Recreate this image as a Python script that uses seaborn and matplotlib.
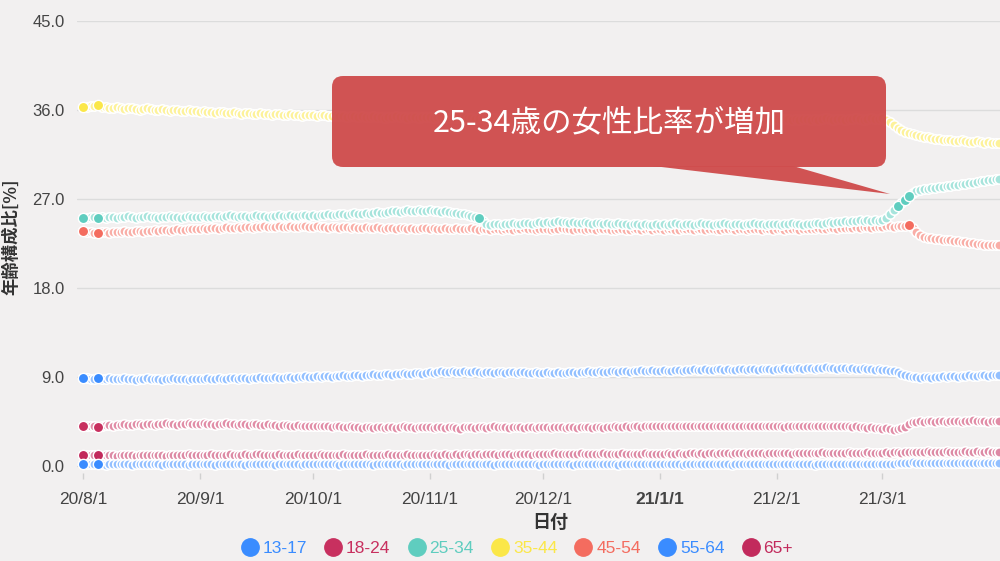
import pandas as pd
import matplotlib
matplotlib.use('Agg')
import matplotlib.pyplot as plt
from matplotlib.colors import to_rgb
from matplotlib.lines import Line2D
from matplotlib.patches import FancyBboxPatch, Polygon
import seaborn as sns

# daily values, 2020-08-01 .. 2021-04-01, one line per month
dates = pd.date_range('2020-08-01', '2021-04-01', freq='D')

age_groups = ['13-17', '18-24', '25-34', '35-44', '45-54', '55-64', '65+']
colors = ['#3a8cff', '#c8305f', '#5fcdbf', '#fbe748', '#f46c5f', '#3a8cff', '#c22a5c']

v_13_17 = """
0.2 0.2 0.2 0.2 0.2 0.2 0.1 0.2 0.2 0.2 0.2 0.2 0.2 0.1 0.2 0.2 0.2 0.2 0.2 0.2 0.2 0.1 0.2 0.2 0.2 0.2 0.2 0.2 0.1 0.2 0.2
0.2 0.2 0.2 0.2 0.1 0.2 0.2 0.2 0.2 0.2 0.2 0.2 0.1 0.2 0.2 0.2 0.2 0.2 0.2 0.2 0.1 0.2 0.2 0.2 0.2 0.2 0.2 0.1 0.2 0.2
0.2 0.2 0.2 0.2 0.2 0.2 0.2 0.1 0.2 0.2 0.2 0.2 0.2 0.2 0.2 0.2 0.1 0.2 0.2 0.2 0.2 0.2 0.2 0.2 0.1 0.2 0.2 0.2 0.2 0.2 0.2
0.2 0.2 0.2 0.2 0.2 0.1 0.2 0.2 0.2 0.2 0.2 0.2 0.2 0.2 0.2 0.2 0.2 0.1 0.2 0.2 0.2 0.2 0.2 0.2 0.2 0.2 0.2 0.2 0.2 0.1
0.2 0.2 0.2 0.2 0.2 0.2 0.2 0.2 0.1 0.2 0.2 0.2 0.2 0.2 0.2 0.2 0.2 0.2 0.2 0.2 0.1 0.2 0.2 0.2 0.2 0.2 0.2 0.2 0.2 0.2 0.2
0.2 0.2 0.2 0.2 0.2 0.2 0.1 0.2 0.2 0.2 0.2 0.2 0.2 0.2 0.2 0.2 0.2 0.2 0.2 0.1 0.2 0.2 0.2 0.2 0.2 0.2 0.2 0.2 0.2 0.2 0.2
0.2 0.2 0.2 0.2 0.2 0.2 0.2 0.2 0.2 0.2 0.1 0.2 0.2 0.2 0.2 0.2 0.2 0.2 0.2 0.2 0.2 0.2 0.2 0.2 0.2 0.2 0.2 0.2
0.2 0.2 0.2 0.2 0.3 0.3 0.3 0.3 0.4 0.3 0.3 0.3 0.3 0.3 0.3 0.3 0.3 0.3 0.3 0.3 0.3 0.3 0.3 0.3 0.3 0.3 0.3 0.3 0.3 0.3 0.3
0.3
"""

v_18_24 = """
4.1 4.1 4.0 4.0 3.9 4.1 4.2 4.2 4.1 4.2 4.2 4.3 4.2 4.2 4.3 4.3 4.2 4.3 4.3 4.2 4.3 4.3 4.4 4.3 4.3 4.2 4.3 4.3 4.4 4.3 4.3
4.3 4.4 4.3 4.3 4.2 4.3 4.3 4.4 4.3 4.3 4.2 4.3 4.3 4.2 4.3 4.3 4.2 4.2 4.3 4.2 4.2 4.1 4.2 4.2 4.1 4.1 4.2 4.1 4.1 4.0
4.1 4.0 4.0 4.1 4.0 3.9 4.0 4.0 3.9 3.9 4.0 3.9 3.9 3.8 3.9 3.9 3.8 3.9 3.9 3.8 3.9 3.9 3.8 3.9 4.0 3.9 3.9 3.8 3.9 3.9 3.9
3.9 3.8 3.9 3.9 3.8 3.9 3.9 3.8 3.7 3.9 3.9 3.9 3.8 3.9 3.9 3.8 3.9 4.0 3.9 3.9 3.9 3.8 3.9 3.9 3.9 3.8 3.9 3.9 3.8 3.9
3.9 3.9 3.8 3.9 3.9 3.9 3.8 3.9 3.9 3.8 3.9 3.9 3.9 3.8 3.9 3.9 3.8 3.9 3.9 4.0 3.9 3.9 4.0 3.9 4.0 4.0 3.9 4.0 4.0 4.1 4.0
4.0 4.1 4.0 4.0 4.1 4.0 4.0 4.1 4.1 4.0 4.0 4.1 4.1 4.0 4.0 4.1 4.0 4.0 4.1 4.0 4.0 4.1 4.1 4.0 4.1 4.1 4.0 4.1 4.1 4.0 4.0
4.1 4.0 3.9 4.0 4.1 4.1 4.0 4.1 4.1 4.0 4.1 4.1 4.0 4.1 4.1 4.0 4.0 4.1 4.0 4.0 3.9 4.0 3.9 3.9 3.8 3.9 3.8 3.8
3.7 3.8 3.7 3.6 3.7 3.8 3.9 4.3 4.5 4.5 4.6 4.5 4.6 4.6 4.5 4.6 4.6 4.5 4.6 4.6 4.6 4.5 4.6 4.6 4.7 4.6 4.6 4.6 4.5 4.6 4.6
4.6
"""

v_25_34 = """
25.1 25.1 25.2 25.2 25.1 25.2 25.1 25.2 25.2 25.1 25.2 25.2 25.3 25.2 25.1 25.2 25.2 25.3 25.2 25.2 25.1 25.2 25.2 25.3 25.2 25.2 25.1 25.2 25.3 25.2 25.2
25.2 25.3 25.2 25.2 25.3 25.3 25.2 25.3 25.4 25.3 25.2 25.3 25.3 25.2 25.3 25.4 25.3 25.3 25.2 25.3 25.3 25.4 25.3 25.3 25.4 25.3 25.3 25.4 25.4 25.3
25.4 25.3 25.4 25.4 25.5 25.4 25.4 25.5 25.5 25.4 25.5 25.6 25.5 25.5 25.6 25.5 25.6 25.7 25.6 25.6 25.7 25.8 25.8 25.7 25.8 25.9 25.8 25.8 25.9 25.8 25.8
25.9 25.8 25.8 25.7 25.8 25.7 25.6 25.6 25.5 25.5 25.4 25.3 25.2 25.1 24.8 24.5 24.4 24.5 24.5 24.4 24.5 24.5 24.6 24.5 24.5 24.6 24.6 24.5 24.6 24.7
24.6 24.7 24.6 24.7 24.8 24.7 24.7 24.6 24.7 24.6 24.6 24.7 24.6 24.5 24.6 24.6 24.5 24.6 24.5 24.5 24.6 24.5 24.5 24.4 24.5 24.5 24.4 24.5 24.4 24.4 24.5
24.4 24.5 24.4 24.5 24.6 24.5 24.4 24.5 24.5 24.4 24.5 24.6 24.5 24.5 24.4 24.5 24.5 24.6 24.5 24.4 24.5 24.5 24.4 24.5 24.5 24.6 24.5 24.5 24.4 24.5 24.5
24.5 24.4 24.5 24.5 24.6 24.5 24.5 24.4 24.5 24.5 24.6 24.6 24.5 24.6 24.7 24.6 24.7 24.7 24.8 24.7 24.8 24.8 24.9 24.8 24.9 24.8 24.9 24.8
24.9 25.1 25.5 25.9 26.3 26.6 26.9 27.3 27.6 27.8 27.9 28.0 28.0 28.1 28.1 28.2 28.2 28.3 28.3 28.4 28.4 28.5 28.5 28.6 28.6 28.7 28.8 28.8 28.9 28.9 29.0
29.0
"""

v_35_44 = """
36.3 36.3 36.4 36.4 36.5 36.3 36.3 36.2 36.2 36.3 36.2 36.1 36.2 36.2 36.1 36.0 36.1 36.2 36.1 36.0 36.0 36.1 36.0 35.9 36.0 36.0 35.9 35.9 36.0 35.9 35.9
35.8 35.9 35.8 35.8 35.7 35.8 35.8 35.7 35.7 35.8 35.7 35.6 35.7 35.7 35.6 35.6 35.7 35.6 35.6 35.5 35.6 35.6 35.5 35.5 35.6 35.5 35.5 35.4 35.5 35.5
35.5 35.4 35.5 35.5 35.4 35.4 35.5 35.4 35.4 35.3 35.4 35.4 35.3 35.4 35.3 35.3 35.4 35.3 35.3 35.2 35.3 35.3 35.4 35.3 35.3 35.2 35.3 35.3 35.2 35.3 35.3
35.3 35.2 35.3 35.3 35.2 35.2 35.3 35.2 35.2 35.3 35.2 35.2 35.1 35.2 35.2 35.1 35.2 35.2 35.1 35.2 35.2 35.1 35.1 35.2 35.1 35.2 35.2 35.1 35.1 35.2
35.2 35.1 35.1 35.2 35.1 35.1 35.2 35.1 35.0 35.1 35.1 35.2 35.1 35.0 35.1 35.1 35.0 35.1 35.1 35.2 35.1 35.0 35.1 35.1 35.0 35.1 35.2 35.1 35.0 35.1 35.1
35.1 35.0 35.1 35.1 35.0 35.0 35.1 35.2 35.1 35.0 35.1 35.1 35.0 35.1 35.0 35.1 35.1 35.0 35.0 35.1 35.1 35.0 35.1 35.2 35.1 35.0 35.1 35.0 35.1 35.1 35.0
35.1 35.0 35.1 35.1 35.0 35.1 35.0 35.1 35.1 35.0 35.1 35.0 35.1 35.2 35.1 35.0 35.1 35.1 35.0 35.1 35.1 35.2 35.1 35.0 35.1 35.2 35.1 35.1
35.2 35.0 34.8 34.5 34.2 34.0 33.8 33.7 33.6 33.5 33.4 33.3 33.3 33.2 33.1 33.1 33.0 33.0 33.0 32.9 32.9 33.0 32.9 32.8 32.8 32.9 32.8 32.7 32.8 32.7 32.7
32.7
"""

v_45_54 = """
23.8 23.7 23.7 23.6 23.6 23.7 23.7 23.6 23.7 23.7 23.7 23.8 23.7 23.7 23.8 23.8 23.7 23.8 23.8 23.9 23.8 23.9 23.9 23.8 23.9 24.0 23.9 23.9 24.0 24.0 24.0
24.0 24.1 24.0 24.1 24.1 24.0 24.1 24.2 24.1 24.1 24.2 24.1 24.2 24.2 24.1 24.2 24.2 24.3 24.2 24.2 24.2 24.3 24.2 24.2 24.3 24.2 24.2 24.3 24.3 24.2
24.2 24.3 24.2 24.2 24.1 24.2 24.2 24.1 24.2 24.2 24.1 24.2 24.1 24.1 24.2 24.1 24.1 24.2 24.1 24.0 24.1 24.1 24.0 24.1 24.1 24.0 24.1 24.0 24.0 24.1 24.1
24.0 24.1 24.0 24.0 24.1 24.0 24.0 24.1 24.0 24.0 24.0 24.1 24.0 23.9 24.0 24.0 23.9 24.0 24.0 23.9 24.0 24.0 23.9 24.0 24.0 24.1 24.0 24.0 23.9 24.0
24.0 24.0 23.9 24.0 24.0 24.1 24.0 24.0 23.9 24.0 24.0 23.9 24.0 24.0 23.9 24.0 24.0 24.0 23.9 23.9 24.0 24.0 23.9 23.9 24.0 24.0 23.9 24.0 24.0 23.9 24.0
24.0 23.9 24.0 24.0 23.9 23.9 24.0 24.0 24.0 23.9 24.0 24.0 23.9 24.0 24.0 23.9 23.9 24.0 24.0 24.0 23.9 24.0 24.0 23.9 24.0 24.0 24.0 23.9 24.0 24.0 23.9
24.0 24.0 23.9 24.0 24.0 24.0 23.9 24.0 24.0 24.0 24.0 24.1 24.0 24.0 24.1 24.1 24.0 24.1 24.1 24.1 24.1 24.2 24.1 24.2 24.2 24.1 24.2 24.2
24.2 24.3 24.3 24.2 24.3 24.3 24.3 24.4 24.1 23.7 23.4 23.2 23.1 23.1 23.0 23.0 22.9 22.9 22.9 22.8 22.8 22.7 22.7 22.6 22.6 22.5 22.5 22.4 22.4 22.3 22.3
22.3
"""

v_55_64 = """
8.9 8.9 8.8 8.8 8.9 8.8 8.8 8.9 8.8 8.8 8.8 8.9 8.8 8.8 8.7 8.8 8.8 8.9 8.8 8.8 8.8 8.7 8.8 8.8 8.9 8.8 8.8 8.8 8.7 8.8 8.8
8.8 8.8 8.9 8.8 8.8 8.9 8.8 8.8 8.9 8.9 8.8 8.9 8.9 8.8 8.9 8.9 9.0 8.9 8.9 8.9 9.0 8.9 8.9 9.0 9.0 8.9 9.0 9.0 9.1 9.0
9.0 9.1 9.0 9.1 9.1 9.0 9.1 9.1 9.2 9.1 9.1 9.2 9.2 9.1 9.2 9.2 9.3 9.2 9.2 9.3 9.3 9.2 9.3 9.3 9.4 9.3 9.3 9.4 9.4 9.3 9.4
9.5 9.4 9.5 9.6 9.5 9.5 9.6 9.5 9.5 9.6 9.5 9.5 9.6 9.5 9.4 9.5 9.5 9.4 9.5 9.5 9.4 9.5 9.5 9.4 9.5 9.5 9.4 9.4 9.5 9.4
9.4 9.5 9.4 9.4 9.5 9.4 9.4 9.5 9.5 9.4 9.5 9.5 9.6 9.5 9.5 9.6 9.5 9.5 9.6 9.6 9.5 9.6 9.6 9.5 9.6 9.6 9.7 9.6 9.6 9.7 9.6
9.6 9.7 9.6 9.6 9.7 9.7 9.6 9.7 9.7 9.8 9.7 9.7 9.8 9.7 9.7 9.8 9.8 9.7 9.8 9.7 9.7 9.8 9.8 9.7 9.8 9.8 9.7 9.8 9.8 9.8 9.7
9.8 9.8 9.9 9.8 9.8 9.9 9.9 9.8 9.9 9.9 9.8 9.9 9.9 10.0 9.9 9.9 9.8 9.9 9.9 9.8 9.9 9.8 9.8 9.9 9.8 9.8 9.7 9.8
9.7 9.7 9.6 9.6 9.5 9.3 9.2 9.1 9.0 9.0 8.9 9.0 9.0 8.9 9.0 9.0 9.1 9.0 9.1 9.1 9.0 9.1 9.1 9.2 9.1 9.1 9.2 9.2 9.1 9.2 9.2
9.2
"""

v_65 = """
1.1 1.1 1.1 1.1 1.1 1.0 1.1 1.1 1.1 1.0 1.1 1.1 1.1 1.1 1.0 1.1 1.1 1.1 1.1 1.1 1.1 1.1 1.0 1.1 1.1 1.1 1.1 1.1 1.2 1.1 1.1
1.1 1.1 1.1 1.2 1.1 1.1 1.1 1.1 1.2 1.1 1.1 1.1 1.2 1.1 1.1 1.2 1.2 1.1 1.1 1.1 1.1 1.2 1.1 1.1 1.1 1.1 1.2 1.1 1.1 1.1
1.1 1.1 1.2 1.1 1.1 1.1 1.1 1.1 1.2 1.1 1.1 1.1 1.1 1.1 1.2 1.1 1.1 1.1 1.1 1.1 1.2 1.1 1.1 1.1 1.1 1.2 1.1 1.1 1.1 1.1 1.1
1.1 1.2 1.1 1.1 1.2 1.1 1.1 1.2 1.1 1.2 1.2 1.1 1.2 1.2 1.1 1.2 1.2 1.2 1.1 1.2 1.2 1.2 1.1 1.2 1.2 1.2 1.2 1.1 1.2 1.2
1.2 1.2 1.2 1.3 1.2 1.2 1.2 1.2 1.2 1.2 1.3 1.2 1.2 1.2 1.2 1.2 1.3 1.2 1.2 1.2 1.2 1.3 1.2 1.2 1.2 1.2 1.2 1.3 1.2 1.2 1.2
1.2 1.2 1.3 1.2 1.2 1.3 1.2 1.2 1.3 1.3 1.2 1.3 1.2 1.3 1.3 1.2 1.3 1.3 1.3 1.2 1.3 1.3 1.3 1.2 1.3 1.3 1.3 1.3 1.2 1.3 1.3
1.3 1.3 1.3 1.3 1.2 1.3 1.3 1.3 1.3 1.3 1.3 1.3 1.4 1.3 1.3 1.3 1.3 1.3 1.3 1.4 1.3 1.3 1.3 1.3 1.4 1.3 1.3 1.3
1.3 1.4 1.3 1.4 1.4 1.3 1.4 1.4 1.4 1.4 1.4 1.4 1.5 1.4 1.4 1.4 1.4 1.5 1.4 1.4 1.4 1.4 1.5 1.4 1.4 1.5 1.4 1.4 1.5 1.4 1.4
1.4
"""

series_text = [v_13_17, v_18_24, v_25_34, v_35_44, v_45_54, v_55_64, v_65]

# points drawn in full colour (hovered/highlighted in the original)
highlight = {
    '13-17': [0, 4], '18-24': [0, 4], '25-34': [0, 4, 105, 216, 218, 219],
    '35-44': [0, 4], '45-54': [0, 4, 219], '55-64': [0, 4], '65+': [0, 4],
}

x_ticks = ['2020-08-01', '2020-09-01', '2020-10-01', '2020-11-01',
           '2020-12-01', '2021-01-01', '2021-02-01', '2021-03-01']
x_labels = ['20/8/1', '20/9/1', '20/10/1', '20/11/1', '20/12/1', '21/1/1', '21/2/1', '21/3/1']
y_ticks = [0, 9, 18, 27, 36, 45]

rows = []
for grp, txt in zip(age_groups, series_text):
    vals = [float(t) for t in txt.split()]
    assert len(vals) == len(dates), (grp, len(vals))
    for i, (d, v) in enumerate(zip(dates, vals)):
        rows.append({'date': d, 'age': grp, 'value': v, 'hl': i in highlight[grp]})
df = pd.DataFrame(rows)

bg = '#f2f0f0'
sns.set_theme(style='whitegrid')
plt.rcParams['font.family'] = ['Liberation Sans', 'Noto Sans CJK JP', 'DejaVu Sans']

fig = plt.figure(figsize=(10, 5.61), dpi=100, facecolor=bg)
ax = fig.add_axes([0.077, 0.1569, 0.923, 0.8057])
ax.set_facecolor(bg)

# pale fill for the dense daily markers
light = {}
for grp, c in zip(age_groups, colors):
    r, g, b = to_rgb(c)
    light[grp] = (0.55 * r + 0.45, 0.55 * g + 0.45, 0.55 * b + 0.45)
full = dict(zip(age_groups, colors))

draw_order = ['65+', '55-64', '45-54', '35-44', '25-34', '18-24', '13-17']
for grp in draw_order:
    sub = df[df['age'] == grp]
    sns.scatterplot(data=sub, x='date', y='value', color=light[grp], s=46,
                    edgecolor='white', linewidth=1.2, ax=ax, legend=False, zorder=3)
    hl = sub[sub['hl']]
    sns.scatterplot(data=hl, x='date', y='value', color=full[grp], s=55,
                    edgecolor='white', linewidth=1.0, ax=ax, legend=False, zorder=4)

ax.set_xlim(pd.Timestamp('2020-08-01') - pd.Timedelta(hours=38),
            pd.Timestamp('2020-08-01') + pd.Timedelta(hours=int(243.2 * 24)))
ax.set_ylim(-0.7, 45)
ax.set_yticks(y_ticks)
ax.set_yticklabels([f'{t:.1f}' for t in y_ticks])
ax.set_xticks(pd.to_datetime(x_ticks))
ax.set_xticklabels(x_labels)
for lbl in ax.get_xticklabels():
    if lbl.get_text() == '21/1/1':
        lbl.set_fontweight('bold')
        lbl.set_color('#333333')

ax.grid(axis='y', color='#dcdcdc', linewidth=1.0)
ax.grid(axis='x', visible=False)
for sp in ax.spines.values():
    sp.set_visible(False)
ax.tick_params(axis='x', length=4, width=1, color='#d0d0d0', pad=10, labelsize=12.5,
               labelcolor='#444444', bottom=True)
ax.tick_params(axis='y', length=0, pad=9, labelsize=12, labelcolor='#444444')
ax.set_xlabel('')
ax.set_ylabel('')

fig.text(0.011, 1 - 237 / 561, '年齢構成比[%]', rotation=90, ha='center', va='center',
         fontsize=12.5, fontweight='bold', color='#333333', family=['Noto Sans CJK JP'])
fig.text(0.550, 1 - 522 / 561, '日付', ha='center', va='center',
         fontsize=13, fontweight='bold', color='#333333', family=['Noto Sans CJK JP'])

# legend
handles = [Line2D([0], [0], marker='o', linestyle='', markersize=12.5,
                  markerfacecolor=c, markeredgecolor=c) for c in colors]
leg = fig.legend(handles, age_groups, loc='center', bbox_to_anchor=(0.517, 1 - 548 / 561),
                 ncol=7, frameon=False, fontsize=12.5, handlelength=1.0,
                 handletextpad=0.25, columnspacing=1.0, borderpad=0)
for txt, c in zip(leg.get_texts(), colors):
    txt.set_color(c)

# callout box
box_col = '#cf4d4d'
W, H = 1000, 561
box = FancyBboxPatch((332 / W, 1 - 167 / H), 554 / W, 91 / H,
                     boxstyle='round,pad=0,rounding_size=0.011', mutation_aspect=W / H,
                     transform=fig.transFigure, facecolor=box_col, edgecolor='none',
                     alpha=0.96, zorder=5)
fig.add_artist(box)
tail = Polygon([(653 / W, 1 - 166 / H), (793 / W, 1 - 166 / H), (890 / W, 1 - 194 / H)],
               closed=True, transform=fig.transFigure, facecolor=box_col,
               edgecolor='none', alpha=0.96, zorder=5)
fig.add_artist(tail)
fig.text(433 / W, 1 - 123 / H, '25-34歳の女性比率が増加', ha='left', va='center',
         fontsize=22, color='white', family=['Noto Sans CJK JP'], zorder=6)

fig.savefig('out.png', dpi=100, facecolor=bg)
